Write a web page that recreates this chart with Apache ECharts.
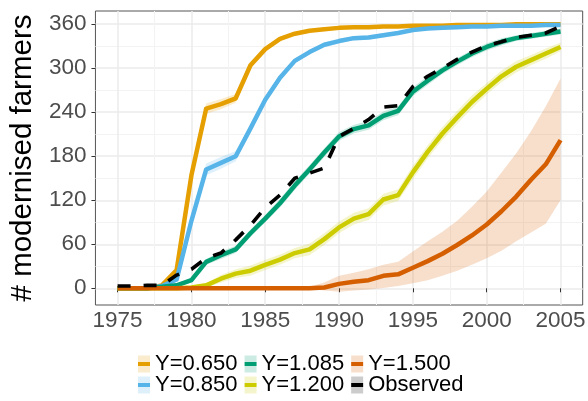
<!DOCTYPE html>
<html><head><meta charset="utf-8">
<script src="https://cdn.jsdelivr.net/npm/echarts@6/dist/echarts.min.js"></script>
<style>html,body{margin:0;padding:0;background:#fff}#c{width:588px;height:401px}</style>
</head><body><div id="c"></div>
<script>
// ---- data ----
const years = [1975,1976,1977,1978,1979,1980,1981,1982,1983,1984,1985,1986,1987,1988,1989,1990,1991,1992,1993,1994,1995,1996,1997,1998,1999,2000,2001,2002,2003,2004,2005];

const y065  = [0,0,0,4,25,154,245,251,259,304,326,340,347,351,353,355,356,356,357,357,358,358,358,359,359,359,359,360,360,360,360];
const band065 = [0,0,0,1,3,5,7,7,6,4,3,2,2,2,1,1,1,1,1,1,1,1,1,1,1,1,1,1,1,1,1];

const y085  = [0,0,0,3,12,92,162,171,180,218,257,287,310,322,332,337,341,342,345,348,352,354,355,356,357,357,358,358,358,359,359];
const band085 = [0,0,0,1,3,6,8,8,7,5,4,3,3,3,3,3,3,3,3,2,2,2,2,2,2,2,2,2,1,1,1];

const y1085 = [0,0,0,2,4,11,36,45,53,75,95,116,140,162,185,207,217,222,235,242,268,283,297,309,320,329,336,341,344,347,350];
const band1085 = [0,0,0,1,2,3,4,5,5,5,5,6,6,6,6,6,6,6,6,6,6,6,5,5,5,5,5,4,4,4,4];

const y120  = [0,0,0,0,0,1,4,13,20,24,32,39,48,53,67,83,95,101,121,127,158,186,211,233,254,272,289,302,311,320,329];
const band120 = [0,0,0,0,0,1,3,5,6,7,7,7,7,8,8,8,8,8,8,8,9,9,9,9,9,8,8,8,7,7,6];

const y150  = [0,0,0,0,0,0,0,0,0,0,0,0,0,0,1,6,9,11,17,19,28,37,47,59,72,87,105,125,148,169,202];
const lo150 = [0,0,0,0,0,0,0,0,0,0,0,0,0,-1,-3,-4.6,-3,-1.5,0.5,3,7,11,17,24,32,41,51,64,76,88,120];
const hi150 = [0,0,0,0,0,0,0,0,0,0,0,0,0,2,8,17,21,26,32,36,50,64,77,92,111,132,158,184,214,248,286];

const observed = [3,3,4,4,18,26,41,48,66,86,110,127,150,157,164,207,218,230,247,249,275,289,300,312,322,331,336,342,345,348,357];

const xMajor = [1975,1980,1985,1990,1995,2000,2005];
const xMinor = [1977.5,1982.5,1987.5,1992.5,1997.5,2002.5];
const yMajor = [0,60,120,180,240,300,360];
const yMinor = [30,90,150,210,270,330];

const seriesNames = ['Y=0.650','Y=0.850','Y=1.085','Y=1.200','Y=1.500','Observed'];
const seriesColors = ['#E69F00','#56B4E9','#009E73','#CCCC00','#D55E00','#000000'];
const ribbonColors = ['rgba(230,159,0,0.2)','rgba(86,180,233,0.2)','rgba(0,158,115,0.2)','rgba(204,204,0,0.2)','rgba(213,94,0,0.2)','rgba(0,0,0,0.2)'];

// ---- build ----
const FONT = '"Liberation Sans", Arial, sans-serif';
const models = [
  {vals: y065,  lo: y065.map((v,i)=>v-band065[i]),  hi: y065.map((v,i)=>v+band065[i])},
  {vals: y085,  lo: y085.map((v,i)=>v-band085[i]),  hi: y085.map((v,i)=>v+band085[i])},
  {vals: y1085, lo: y1085.map((v,i)=>v-band1085[i]), hi: y1085.map((v,i)=>v+band1085[i])},
  {vals: y120,  lo: y120.map((v,i)=>v-band120[i]),  hi: y120.map((v,i)=>v+band120[i])},
  {vals: y150,  lo: lo150, hi: hi150}
];

function ribbonRender(lo, hi, fill) {
  return function (params, api) {
    if (params.dataIndex !== 0) return null;
    const pts = [];
    for (let i = 0; i < years.length; i++) pts.push(api.coord([years[i], hi[i]]));
    for (let i = years.length - 1; i >= 0; i--) pts.push(api.coord([years[i], lo[i]]));
    return {type: 'polygon', shape: {points: pts}, style: {fill: fill}, silent: true};
  };
}

const series = [];
models.forEach((m, k) => {
  series.push({
    type: 'custom', name: 'band' + k, xAxisIndex: 0, yAxisIndex: 0, z: 2,
    data: years.map((y, i) => [y, m.lo[i], m.hi[i]]),
    encode: {x: 0, y: [1, 2]},
    renderItem: ribbonRender(m.lo, m.hi, ribbonColors[k]),
    silent: true
  });
});
models.forEach((m, k) => {
  series.push({
    type: 'line', name: seriesNames[k], xAxisIndex: 0, yAxisIndex: 0, z: 3,
    data: years.map((y, i) => [y, m.vals[i]]),
    showSymbol: false, symbol: 'none', silent: true,
    itemStyle: {color: seriesColors[k]},
    lineStyle: {color: seriesColors[k], width: 4.5, join: 'round', cap: 'butt'}
  });
});
series.push({
  type: 'line', name: 'Observed', xAxisIndex: 0, yAxisIndex: 0, z: 4,
  data: years.map((y, i) => [y, observed[i]]),
  showSymbol: false, symbol: 'none', silent: true,
  itemStyle: {color: '#000'},
  lineStyle: {color: '#000', width: 3.6, type: [13, 13], join: 'round', cap: 'butt'}
});

function keyGrad(light, dark) {
  return {type: 'linear', x: 0, y: 0, x2: 0, y2: 1, colorStops: [
    {offset: 0, color: light}, {offset: 0.36, color: light},
    {offset: 0.36, color: dark}, {offset: 0.64, color: dark},
    {offset: 0.64, color: light}, {offset: 1, color: light}]};
}
function legendItem(k) {
  return {name: seriesNames[k], icon: 'rect',
    itemStyle: {color: keyGrad(ribbonColors[k], seriesColors[k]), borderWidth: 0, borderColor: 'transparent'}};
}
const legendBase = {
  left: 138, itemGap: 7, itemWidth: 12, itemHeight: 17, padding: 0, selectedMode: false,
  itemStyle: {borderWidth: 0},
  textStyle: {fontSize: 22, color: '#000', fontFamily: FONT, lineHeight: 22}
};

const chart = echarts.init(document.getElementById('c'), null, {renderer: 'canvas'});
chart.setOption({
  animation: false,
  backgroundColor: '#fff',
  grid: {left: 83, right: 5, top: 11, bottom: 96, show: true, borderColor: '#555', borderWidth: 1, backgroundColor: '#fff'},
  xAxis: [
    {type: 'value', min: 1973.5, max: 2006.5,
      axisLine: {show: false},
      axisTick: {show: true, length: 4, lineStyle: {color: '#333'}, customValues: xMajor},
      axisLabel: {customValues: xMajor, fontSize: 22.5, color: '#4d4d4d', margin: 4, fontFamily: FONT,
        formatter: v => String(v)},
      splitLine: {show: true, lineStyle: {color: '#ebebeb', width: 1.5}}},
    {type: 'value', min: 1973.5, max: 2006.5, position: 'top',
      axisLine: {show: false},
      axisTick: {show: false, customValues: xMinor},
      axisLabel: {show: false, customValues: xMinor},
      splitLine: {show: true, lineStyle: {color: '#f3f3f3', width: 1}}}
  ],
  yAxis: [
    {type: 'value', min: -22.8, max: 378,
      name: '# modernised farmers', nameLocation: 'middle', nameGap: 50, nameRotate: 90,
      nameTextStyle: {fontSize: 29.5, color: '#000', fontFamily: FONT},
      axisLine: {show: false},
      axisTick: {show: true, length: 4, lineStyle: {color: '#333'}, customValues: yMajor},
      axisLabel: {customValues: yMajor, fontSize: 22.5, color: '#4d4d4d', margin: 9, fontFamily: FONT,
        formatter: v => String(v)},
      splitLine: {show: true, lineStyle: {color: '#ebebeb', width: 1.5}}},
    {type: 'value', min: -22.8, max: 378, position: 'right',
      axisLine: {show: false},
      axisTick: {show: false, customValues: yMinor},
      axisLabel: {show: false, customValues: yMinor},
      splitLine: {show: true, lineStyle: {color: '#f3f3f3', width: 1}}}
  ],
  legend: [
    Object.assign({}, legendBase, {top: 353, data: [legendItem(0), legendItem(2), legendItem(4)]}),
    Object.assign({}, legendBase, {top: 374, data: [legendItem(1), legendItem(3), legendItem(5)]})
  ],
  series: series
});
</script>
</body></html>
